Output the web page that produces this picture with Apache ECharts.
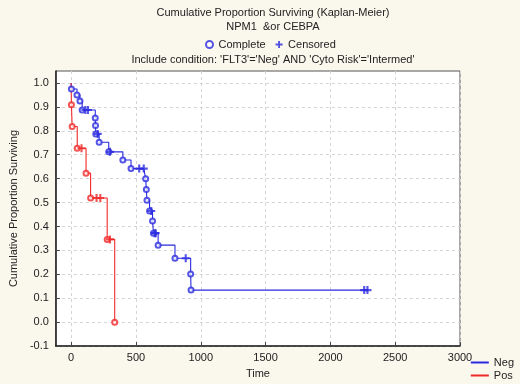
<!DOCTYPE html>
<html><head><meta charset="utf-8">
<script src="https://cdn.jsdelivr.net/npm/echarts@6/dist/echarts.min.js"></script>
<style>html,body{margin:0;padding:0;background:#faf7ec}#c{width:520px;height:384px}</style>
</head><body><div id="c"></div>
<script>
// Neg group: deaths (complete) and censored observations
const negDeathTime = [2, 45, 68, 85, 186, 188, 190, 216, 290, 399, 462, 575, 580, 585, 605, 628, 635, 671, 801, 922, 925];
const negDeathSurv = [0.975, 0.95, 0.925, 0.887, 0.854, 0.822, 0.787, 0.752, 0.712, 0.678, 0.642, 0.60, 0.555, 0.51, 0.465, 0.423, 0.372, 0.322, 0.267, 0.201, 0.134];
const negCensTime = [110, 130, 205, 300, 525, 560, 618, 645, 652, 884, 2261, 2286];
const negCensSurv = [0.887, 0.887, 0.787, 0.712, 0.642, 0.642, 0.465, 0.372, 0.372, 0.267, 0.134, 0.134];
// Pos group
const posDeathTime = [2, 8, 47, 115, 150, 278, 336];
const posDeathSurv = [0.909, 0.818, 0.727, 0.623, 0.519, 0.346, 0.0];
const posCensTime = [80, 196, 225, 299];
const posCensSurv = [0.727, 0.519, 0.519, 0.346];
// Axis ticks
const xTicks = [0, 500, 1000, 1500, 2000, 2500, 3000];
const yTicks = [-0.1, 0.0, 0.1, 0.2, 0.3, 0.4, 0.5, 0.6, 0.7, 0.8, 0.9, 1.0];

const BLUE = '#2a2ae0', RED = '#f02828';
const PLUS = 'path://M-1.2,-4.5 h2.4 v3.3 h3.3 v2.4 h-3.3 v3.3 h-2.4 v-3.3 h-3.3 v-2.4 h3.3 z';

function stepData(dt, ds, ct, cs) {
  const pts = [[0, 1.0]];
  const all = [];
  dt.forEach((t, i) => all.push([t, ds[i]]));
  ct.forEach((t, i) => all.push([t, cs[i]]));
  all.sort((a, b) => a[0] - b[0] || b[1] - a[1]);
  return pts.concat(all);
}
function pairs(t, s) { return t.map((v, i) => [v, s[i]]); }

const font = 'Liberation Sans, Arial, sans-serif';
const chart = echarts.init(document.getElementById('c'));
chart.setOption({
  backgroundColor: '#faf7ec',
  animation: false,
  textStyle: { fontFamily: font, color: '#222' },
  title: [
    { text: 'Cumulative Proportion Surviving (Kaplan-Meier)\nNPM1  &or CEBPA', left: 268, top: 1, textAlign: 'center',
      textStyle: { fontSize: 11, fontWeight: 'normal', fontFamily: font, color: '#222', lineHeight: 14 } },
    { text: "Include condition: 'FLT3'='Neg' AND 'Cyto Risk'='Intermed'", left: 268, top: 49, textAlign: 'center',
      textStyle: { fontSize: 11, fontWeight: 'normal', fontFamily: font, color: '#222' } }
  ],
  legend: [
    { data: ['Complete', 'Censored'], top: 34, left: 200, itemGap: 10, itemWidth: 8, itemHeight: 7,
      textStyle: { fontSize: 11, fontFamily: font, color: '#222' } },
    { data: ['Neg', 'Pos'], orient: 'vertical', right: 1, bottom: -2, itemGap: 2, itemWidth: 18, itemHeight: 2, icon: 'rect',
      textStyle: { fontSize: 11, fontFamily: font, color: '#222' } }
  ],
  grid: { left: 47, right: 60, top: 71, bottom: 37, show: true, backgroundColor: '#ffffff', borderColor: '#555', borderWidth: 1 },
  xAxis: [{
    type: 'value', min: -118, max: 3000, name: 'Time', nameLocation: 'middle', nameGap: 16,
    nameTextStyle: { fontSize: 11, fontFamily: font, color: '#222' },
    axisLine: { show: true, onZero: false, lineStyle: { color: '#222', width: 1.5 } },
    axisTick: { show: true, inside: true, length: 4, customValues: xTicks, lineStyle: { color: '#444' } },
    axisLabel: { customValues: xTicks, fontSize: 11, margin: 6, color: '#222', fontFamily: font, formatter: v => String(Math.round(v)) },
    splitLine: { show: true, lineStyle: { color: '#d4d4d4', type: [3, 3] } }
  }],
  yAxis: [{
    type: 'value', min: -0.1, max: 1.05, name: 'Cumulative Proportion Surviving', nameLocation: 'middle', nameGap: 32,
    nameTextStyle: { fontSize: 11, fontFamily: font, color: '#222' },
    axisLine: { show: true, onZero: false, lineStyle: { color: '#222', width: 1.5 } },
    axisTick: { show: true, inside: true, length: 4, customValues: yTicks, lineStyle: { color: '#444' } },
    axisLabel: { customValues: yTicks, fontSize: 11, margin: 7, color: '#222', fontFamily: font, formatter: v => v.toFixed(1) },
    splitLine: { show: true, lineStyle: { color: '#d4d4d4', type: [3, 3] } }
  }],
  series: [
    { name: 'Neg', type: 'line', step: 'end', showSymbol: false, data: stepData(negDeathTime, negDeathSurv, negCensTime, negCensSurv),
      lineStyle: { color: BLUE, width: 1.1 }, itemStyle: { color: BLUE }, z: 3 },
    { name: 'Pos', type: 'line', step: 'end', showSymbol: false, data: stepData(posDeathTime, posDeathSurv, posCensTime, posCensSurv),
      lineStyle: { color: RED, width: 1.1 }, itemStyle: { color: RED }, z: 3 },
    { name: 'negComplete', type: 'scatter', symbol: 'emptyCircle', symbolSize: 5, data: pairs(negDeathTime, negDeathSurv),
      itemStyle: { color: BLUE, borderColor: BLUE, borderWidth: 1.1 }, z: 4 },
    { name: 'negCensored', type: 'scatter', symbol: PLUS, symbolSize: 8, data: pairs(negCensTime, negCensSurv),
      itemStyle: { color: BLUE }, z: 4 },
    { name: 'posComplete', type: 'scatter', symbol: 'emptyCircle', symbolSize: 5, data: pairs(posDeathTime, posDeathSurv),
      itemStyle: { color: RED, borderColor: RED, borderWidth: 1.1 }, z: 4 },
    { name: 'posCensored', type: 'scatter', symbol: PLUS, symbolSize: 8, data: pairs(posCensTime, posCensSurv),
      itemStyle: { color: RED }, z: 4 },
    { name: 'Complete', type: 'scatter', symbol: 'emptyCircle', data: [], itemStyle: { color: BLUE, borderColor: BLUE, borderWidth: 1.5 } },
    { name: 'Censored', type: 'scatter', symbol: PLUS, data: [], itemStyle: { color: BLUE } }
  ]
});
</script></body></html>
